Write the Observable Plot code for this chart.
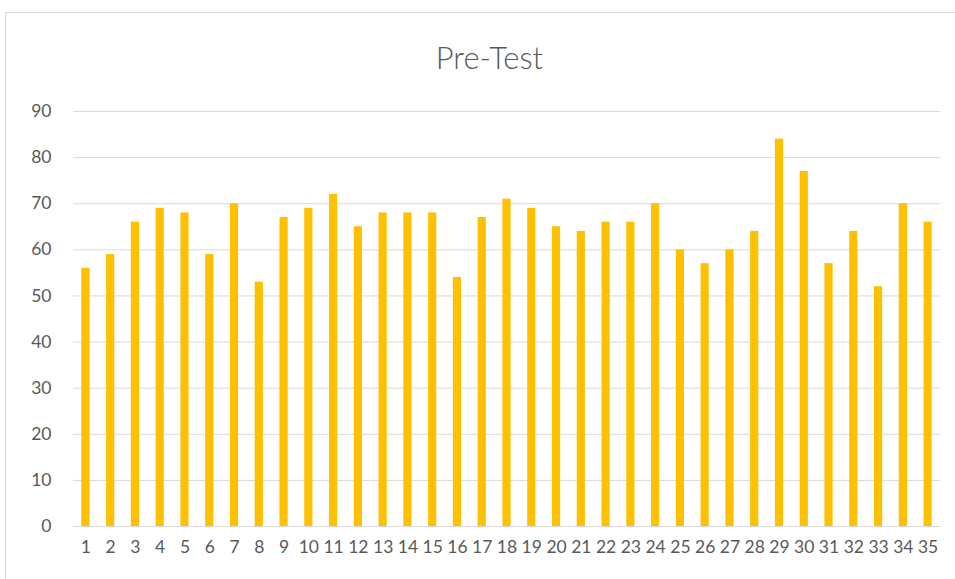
<!DOCTYPE html>
<html>
<head>
<meta charset="utf-8">
<script src="https://cdn.jsdelivr.net/npm/d3@7"></script>
<script src="https://cdn.jsdelivr.net/npm/@observablehq/plot@0.6"></script>
<style>
  html, body { margin: 0; padding: 0; background: #fff; overflow: hidden; }
  #frame { position: absolute; left: 5px; top: 12px; width: 980px; height: 600px; border: 1px solid #d9d9d9; box-sizing: border-box; }
  #title { position: absolute; left: 0; top: 37px; width: 979px; text-align: center; font-family: Lato, "Open Sans", sans-serif; font-weight: 300; font-size: 31px; color: #595959; line-height: 40px; }
  #chart { position: absolute; left: 0; top: 90px; }
</style>
</head>
<body>
<div id="frame"></div>
<div id="title">Pre-Test</div>
<div id="chart"></div>
<script>
const students = d3.range(1, 36).map(String);
const scores = [56, 59, 66, 69, 68, 59, 70, 53, 67, 69, 72, 65, 68, 68, 68, 54, 67, 71, 69, 65, 64, 66, 66, 70, 60, 57, 60, 64, 84, 77, 57, 64, 52, 70, 66];
const yTicks = [0, 10, 20, 30, 40, 50, 60, 70, 80, 90];

const data = students.map((s, i) => ({ student: s, score: scores[i] }));

const chart = Plot.plot({
  width: 955,
  height: 476,
  marginLeft: 73,
  marginRight: 15,
  marginTop: 21,
  marginBottom: 40,
  style: { fontFamily: "Lato, 'Open Sans', sans-serif", fontSize: "17.5px", color: "#595959", background: "transparent" },
  x: { domain: students, paddingInner: 0.67, paddingOuter: 0.335, align: 0.5, round: false, label: null, tickSize: 0, tickPadding: 14 },
  y: { domain: [0, 90], ticks: yTicks, label: null, tickSize: 0, tickPadding: 22 },
  marks: [
    Plot.gridY(yTicks, { stroke: "#d9d9d9", strokeOpacity: 1, strokeWidth: 1 }),
    Plot.barY(data, { x: "student", y: "score", fill: "#ffc000" }),
    Plot.ruleY([0], { stroke: "#d9d9d9", strokeWidth: 1 })
  ]
});
document.getElementById("chart").appendChild(chart);
</script>
</body>
</html>
